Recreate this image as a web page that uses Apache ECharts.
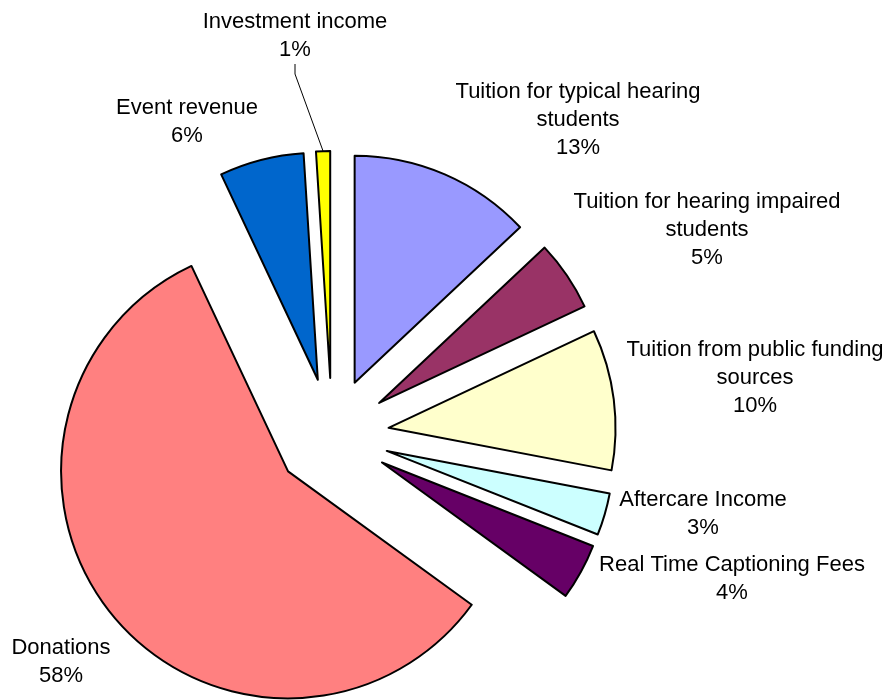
<!DOCTYPE html>
<html>
<head>
<meta charset="utf-8">
<script src="https://cdn.jsdelivr.net/npm/echarts@6/dist/echarts.min.js"></script>
<style>
  html, body { margin: 0; padding: 0; background: #ffffff; }
  #chart { width: 885px; height: 700px; }
</style>
</head>
<body>
<div id="chart"></div>
<script>
// Revenue sources, clockwise from twelve o'clock
const categories = [
  'Tuition for typical hearing\nstudents',
  'Tuition for hearing impaired\nstudents',
  'Tuition from public funding\nsources',
  'Aftercare Income',
  'Real Time Captioning Fees',
  'Donations',
  'Event revenue',
  'Investment income'
];
const shares = [13, 5, 10, 3, 4, 58, 6, 1];

// Fill colours, one per slice
const sliceColors = ['#9999FF', '#993366', '#FFFFCC', '#CCFFFF', '#660066', '#FF8080', '#0066CC', '#FFFF00'];

// Centre point of each label block (pixels)
const labelSpots = [
  [578, 120], [707, 230], [755, 378], [703, 514],
  [732, 579], [61, 662], [187, 122], [295, 36]
];

// Geometry of the exploded pie
const pieCenter = [332, 435];
const pieRadius = 227;
const explode = 57;
const guidedSlice = 7; // the small slice whose label gets a leader line

const chart = echarts.init(document.getElementById('chart'), null, { renderer: 'canvas' });

// Mid angle of every slice (degrees clockwise from twelve o'clock)
const total = shares.reduce((s, v) => s + v, 0);
let running = 0;
const midAngles = shares.map(v => {
  const mid = (running + v / 2) / total * 360;
  running += v;
  return mid;
});

// The label layer sits where the guided slice is pushed out to,
// so its leader line lands on the visible slice.
const guideRad = midAngles[guidedSlice] * Math.PI / 180;
const labelLayerCenter = [
  pieCenter[0] + explode * Math.sin(guideRad),
  pieCenter[1] - explode * Math.cos(guideRad)
];

const slices = categories.map((name, i) => ({
  name: name,
  value: shares[i],
  selected: true,
  itemStyle: { color: sliceColors[i] }
}));

const labelItems = categories.map((name, i) => ({
  name: name,
  value: shares[i],
  labelLine: { show: i === guidedSlice }
}));

const textStyle = {
  fontFamily: 'Liberation Sans, Arial, sans-serif',
  fontSize: 22,
  lineHeight: 28,
  color: '#000000'
};

chart.setOption({
  backgroundColor: '#ffffff',
  animation: false,
  series: [
    {
      // visible slices, every one pulled out from the centre
      type: 'pie',
      silent: true,
      center: pieCenter,
      radius: pieRadius,
      startAngle: 90,
      clockwise: true,
      selectedMode: 'multiple',
      selectedOffset: explode,
      itemStyle: { borderColor: '#000000', borderWidth: 2 },
      select: { itemStyle: { borderColor: '#000000', borderWidth: 2 } },
      emphasis: { disabled: true },
      label: { show: false },
      labelLine: { show: false },
      data: slices,
      z: 2
    },
    {
      // label layer: transparent sectors carrying the category labels
      type: 'pie',
      silent: true,
      center: labelLayerCenter,
      radius: pieRadius,
      startAngle: 90,
      clockwise: true,
      selectedMode: false,
      avoidLabelOverlap: false,
      itemStyle: { color: 'rgba(0,0,0,0)', borderWidth: 0 },
      emphasis: { disabled: true },
      label: Object.assign({
        show: true,
        position: 'outside',
        formatter: '{b}\n{d}%',
        align: 'center'
      }, textStyle),
      labelLine: {
        show: false,
        length: 10,
        length2: 10,
        lineStyle: { color: '#000000', width: 1 }
      },
      labelLayout: function (params) {
        const spot = labelSpots[params.dataIndex];
        return { x: spot[0], y: spot[1], align: 'center', verticalAlign: 'middle' };
      },
      data: labelItems,
      z: 3
    }
  ]
});
</script>
</body>
</html>
